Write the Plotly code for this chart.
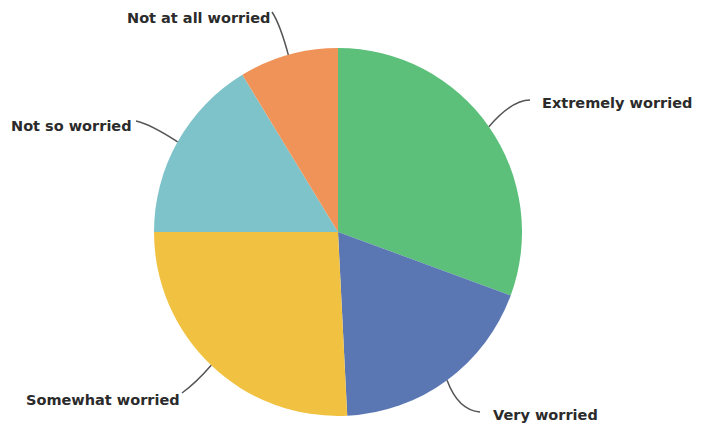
import math
import plotly.graph_objects as go

# Data
categories = ["Extremely worried", "Very worried", "Somewhat worried", "Not so worried", "Not at all worried"]
values = [30.6, 18.6, 25.8, 16.3, 8.7]
colors = ["#5cbf7a", "#5a77b3", "#f1c241", "#7fc3ca", "#ef9359"]

OFF = 8  # page body margin offset
W, H = 702 - OFF, 430 - OFF
CX, CY, R = 338, 232, 184

# label layout (pixel in target window): text anchor x, y, xanchor; leader end point and bend control
label_pos = {
    "Extremely worried": dict(x=540, y=103, xa="left", end=(530, 100), ctrl=(512, 100)),
    "Very worried": dict(x=491, y=415, xa="left", end=(480, 412), ctrl=(458, 410)),
    "Somewhat worried": dict(x=182, y=400, xa="right", end=(182, 393), ctrl=(196, 383)),
    "Not so worried": dict(x=134, y=126, xa="right", end=(136, 121), ctrl=(150, 124)),
    "Not at all worried": dict(x=272, y=18, xa="right", end=(272, 12), ctrl=(280, 24)),
}

def px(x):
    return (x - OFF) / W

def py(y):
    return 1 - (y - OFF) / H

fig = go.Figure(go.Pie(
    labels=categories, values=values, sort=False, direction="clockwise", rotation=0,
    marker=dict(colors=colors, line=dict(width=0)),
    textinfo="none", hoverinfo="label+percent", showlegend=False,
    domain=dict(x=[0, px(2 * CX - OFF)], y=[py(CY + R), py(CY - R)]),
))

total = sum(values)
cum = 0
annotations = []
shapes = []
for cat, v in zip(categories, values):
    mid = (cum + v / 2) / total * 2 * math.pi
    cum += v
    ex = CX + R * math.sin(mid)
    ey = CY - R * math.cos(mid)
    lp = label_pos[cat]
    (qx, qy), (tx, ty) = lp["ctrl"], lp["end"]
    path = f"M {px(ex)},{py(ey)} Q {px(qx)},{py(qy)} {px(tx)},{py(ty)}"
    shapes.append(dict(type="path", path=path, xref="paper", yref="paper",
                       line=dict(color="#555555", width=1.5)))
    annotations.append(dict(text=cat, x=px(lp["x"]), y=py(lp["y"]), xref="paper", yref="paper",
                            xanchor=lp["xa"], yanchor="middle", showarrow=False,
                            font=dict(family="DejaVu Sans", size=14.5, color="#2b2b2b", weight="bold")))

fig.update_layout(
    width=W, height=H, margin=dict(l=0, r=0, t=0, b=0),
    paper_bgcolor="white", plot_bgcolor="white",
    annotations=annotations, shapes=shapes,
)

fig.write_html("out.html")
